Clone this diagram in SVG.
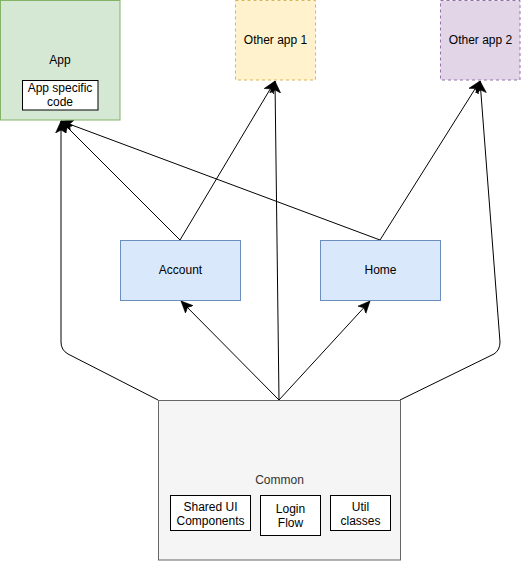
<svg xmlns="http://www.w3.org/2000/svg" width="521" height="561" viewBox="0 0 521 561">
<style>
text{font-family:"Liberation Sans",Arial,sans-serif;font-size:12px;fill:#000;text-anchor:middle}
.edge{fill:none;stroke:#000;stroke-width:1;marker-end:url(#arr)}
.inner{fill:#fff;stroke:#000;stroke-width:1}
</style>
<defs>
<marker id="arr" markerUnits="userSpaceOnUse" markerWidth="12" markerHeight="12" viewBox="0 0 10 10" refX="10" refY="5" orient="auto">
<path d="M0,0.5 L10,5 L0,9.5 L2.5,5 z" fill="#000" stroke="#000" stroke-width="0.5"/>
</marker>
</defs>
<g id="connectors">
<path class="edge" d="M158 400 L68 354 Q61 350 61 342 L61 121"/>
<path class="edge" d="M400 400 L494 354 Q500 350 500 342 L480 81"/>
<path class="edge" d="M279 400 L181 301"/>
<path class="edge" d="M279 400 L370 301"/>
<path class="edge" d="M279 400 L275 81"/>
<path class="edge" d="M180 240 L61 121"/>
<path class="edge" d="M180 240 L275 81"/>
<path class="edge" d="M380 240 L61 121"/>
<path class="edge" d="M380 240 L480 81"/>
</g>
<g id="app">
<rect x="0.5" y="0.5" width="119.5" height="119.5" fill="#d5e8d4" stroke="#82b366"/>
<text x="60" y="64">App</text>
<rect class="inner" x="22.5" y="80.5" width="75.5" height="29.5"/>
<text x="60" y="92">App specific</text>
<text x="60" y="106">code</text>
</g>
<g id="other1">
<rect x="235.5" y="0.5" width="80" height="79.5" fill="#fff2cc" stroke="#d6b656" stroke-dasharray="3 3"/>
<text x="275.5" y="44">Other app 1</text>
</g>
<g id="other2">
<rect x="440.5" y="0.5" width="79.5" height="79.5" fill="#e1d5e7" stroke="#9673a6" stroke-dasharray="3 3"/>
<text x="480.5" y="44">Other app 2</text>
</g>
<g id="account">
<rect x="120.5" y="240.5" width="120" height="60" fill="#dae8fc" stroke="#6c8ebf"/>
<text x="180.5" y="274">Account</text>
</g>
<g id="home">
<rect x="320.5" y="240.5" width="120" height="60" fill="#dae8fc" stroke="#6c8ebf"/>
<text x="380.5" y="274">Home</text>
</g>
<g id="common">
<rect x="158.5" y="400.5" width="242" height="159.5" fill="#f5f5f5" stroke="#666666"/>
<text x="279.5" y="484" style="fill:#333333">Common</text>
</g>
<g id="shared-ui">
<rect class="inner" x="170.5" y="495.5" width="80" height="35"/>
<text x="210.5" y="511">Shared UI</text>
<text x="210.5" y="525">Components</text>
</g>
<g id="login-flow">
<rect class="inner" x="260.5" y="495.5" width="60" height="40"/>
<text x="290.5" y="513">Login</text>
<text x="290.5" y="527">Flow</text>
</g>
<g id="util">
<rect class="inner" x="330.5" y="495.5" width="60" height="35"/>
<text x="360.5" y="511">Util</text>
<text x="360.5" y="525">classes</text>
</g>
</svg>
